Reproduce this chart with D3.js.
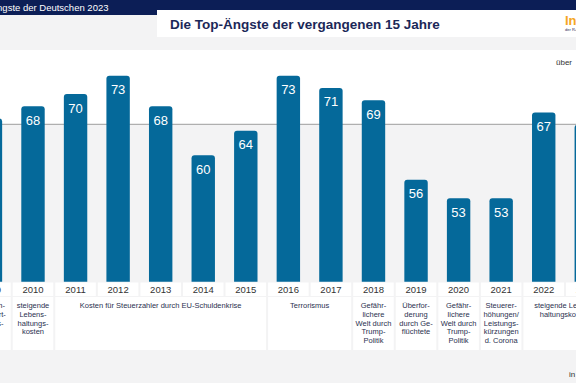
<html>
<head>
    <meta charset="UTF-8">
    <script src="https://cdnjs.cloudflare.com/ajax/libs/d3/7.8.5/d3.min.js"></script>
    <style>
        body { margin: 0; background: #fff; }
        text { font-family: "Liberation Sans", Arial, sans-serif; }
    </style>
</head>
<body>
<script>
    // data
    var years = [2009, 2010, 2011, 2012, 2013, 2014, 2015, 2016, 2017, 2018, 2019, 2020, 2021, 2022, 2023];
    var values = [66, 68, 70, 73, 68, 60, 64, 73, 71, 69, 56, 53, 53, 67, 65];

    var descFrom = [2009, 2010, 2011, 2016, 2018, 2019, 2020, 2021, 2022];
    var descTo   = [2009, 2010, 2015, 2017, 2018, 2019, 2020, 2021, 2023];
    var descLines = [
        ["Schlech-", "tere Wirt-", "schafts-", "lage"],
        ["steigende", "Lebens-", "haltungs-", "kosten"],
        ["Kosten für Steuerzahler durch EU-Schuldenkrise"],
        ["Terrorismus"],
        ["Gefähr-", "lichere", "Welt durch", "Trump-", "Politik"],
        ["Überfor-", "derung", "durch Ge-", "flüchtete"],
        ["Gefähr-", "lichere", "Welt durch", "Trump-", "Politik"],
        ["Steuerer-", "höhungen/", "Leistungs-", "kürzungen", "d. Corona"],
        ["steigende Lebens-", "haltungskosten"]
    ];

    var width = 576, height = 383;
    var navy = "#0c1e56", barColor = "#05699a", grey = "#f3f3f4";

    var svg = d3.select("body").append("svg")
            .attr("width", width)
            .attr("height", height);

    // backgrounds
    svg.append("rect").attr("width", width).attr("height", height).attr("fill", grey);
    svg.append("rect").attr("x", 0).attr("y", 50).attr("width", width).attr("height", 75).attr("fill", "#fff");
    svg.append("rect").attr("x", 0).attr("y", 0).attr("width", width).attr("height", 10).attr("fill", navy);
    svg.append("rect").attr("x", 0).attr("y", 0).attr("width", 157).attr("height", 15).attr("fill", navy);
    svg.append("rect").attr("x", 157).attr("y", 10).attr("width", width - 157).attr("height", 27).attr("fill", "#fff");

    svg.append("text").attr("x", 108.5).attr("y", 10.5)
            .attr("text-anchor", "end").attr("font-size", 9.5).attr("fill", "#fff")
            .text("Die Ängste der Deutschen 2023");

    svg.append("text").attr("x", 170).attr("y", 28.5)
            .attr("font-size", 13.5).attr("font-weight", "bold").attr("fill", "#1b2858")
            .text("Die Top-Ängste der vergangenen 15 Jahre");

    svg.append("text").attr("x", 565).attr("y", 25)
            .attr("font-size", 13).attr("font-weight", "bold").attr("fill", "#f5a623")
            .text("Infocenter");
    svg.append("text").attr("x", 565).attr("y", 30.5)
            .attr("font-size", 4).attr("fill", "#1b2858")
            .text("der R+V Versicherung");

    svg.append("text").attr("x", 556).attr("y", 65)
            .attr("font-size", 8).attr("fill", "#333")
            .text("über");

    // scales
    var step = 42.56, c0 = -9.56;
    var x = d3.scaleBand()
            .domain(years)
            .range([c0 - step / 2, c0 - step / 2 + step * years.length])
            .paddingInner(0.45)
            .paddingOuter(0.225);

    var y = d3.scaleLinear()
            .domain([39.35, 73])
            .range([281.7, 75.7]);

    // reference line
    svg.append("line")
            .attr("x1", 0).attr("x2", width)
            .attr("y1", 124.3).attr("y2", 124.3)
            .attr("stroke", "#9b9b9b").attr("stroke-width", 1);

    function barPath(x0, y0, w, y1, r) {
        return "M" + x0 + "," + y1 +
                "V" + (y0 + r) +
                "Q" + x0 + "," + y0 + " " + (x0 + r) + "," + y0 +
                "H" + (x0 + w - r) +
                "Q" + (x0 + w) + "," + y0 + " " + (x0 + w) + "," + (y0 + r) +
                "V" + y1 + "Z";
    }

    var bars = svg.selectAll(".bar")
            .data(years)
            .enter()
            .append("g")
            .attr("class", "bar");

    bars.append("path")
            .attr("d", function (d, i) {
                return barPath(x(d), y(values[i]), x.bandwidth(), y.range()[0], 3);
            })
            .attr("fill", barColor);

    bars.append("text")
            .attr("x", function (d) { return x(d) + x.bandwidth() / 2; })
            .attr("y", function (d, i) { return y(values[i]) + 18.5; })
            .attr("text-anchor", "middle")
            .attr("font-size", 13)
            .attr("fill", "#fff")
            .text(function (d, i) { return values[i]; });

    // year row
    function centre(yr) { return x(yr) + x.bandwidth() / 2; }

    var yearRow = svg.selectAll(".yr")
            .data(years)
            .enter()
            .append("g")
            .attr("class", "yr");

    yearRow.append("rect")
            .attr("x", function (d) { return centre(d) - step / 2 + 1; })
            .attr("y", 282.5)
            .attr("width", step - 2)
            .attr("height", 13.5)
            .attr("fill", "#fff");

    yearRow.append("text")
            .attr("x", centre)
            .attr("y", 292.5)
            .attr("text-anchor", "middle")
            .attr("font-size", 9.5)
            .attr("fill", "#333")
            .text(function (d) { return d; });

    // description row
    var desc = svg.selectAll(".desc")
            .data(descLines)
            .enter()
            .append("g")
            .attr("class", "desc");

    desc.append("rect")
            .attr("x", function (d, i) { return centre(descFrom[i]) - step / 2 + 1; })
            .attr("y", 297)
            .attr("width", function (d, i) { return centre(descTo[i]) - centre(descFrom[i]) + step - 2; })
            .attr("height", 53)
            .attr("fill", "#fff");

    desc.each(function (lines, i) {
        var cx = (centre(descFrom[i]) + centre(descTo[i])) / 2;
        d3.select(this).selectAll("text")
                .data(lines)
                .enter()
                .append("text")
                .attr("x", cx)
                .attr("y", function (l, j) { return 308.3 + j * 8.6; })
                .attr("text-anchor", "middle")
                .attr("font-size", 7.5)
                .attr("fill", "#2b3150")
                .text(function (l) { return l; });
    });

    svg.append("text").attr("x", 569).attr("y", 377)
            .attr("font-size", 8).attr("fill", "#333")
            .text("in Prozent");
</script>
</body>
</html>
